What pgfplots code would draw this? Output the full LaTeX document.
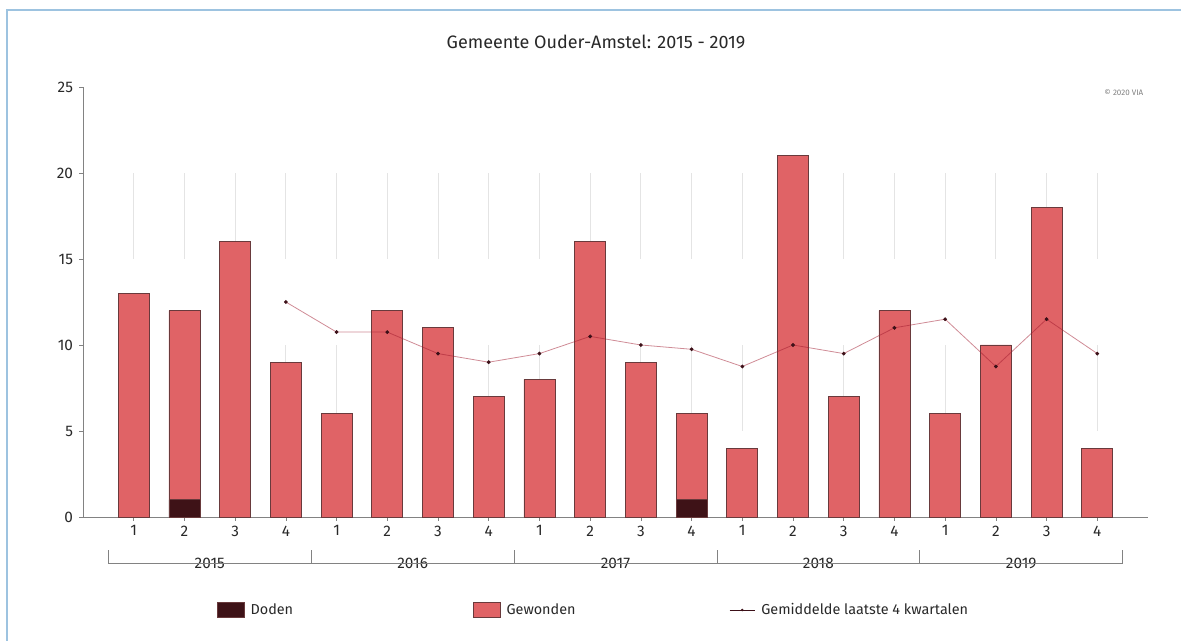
\documentclass[border=0pt]{standalone}
\usepackage{pgfplots}
\pgfplotsset{compat=1.18}
\usepackage{fontspec}
\setmainfont{Fira Sans}
\definecolor{doden}{RGB}{62,18,23}
\definecolor{gewonden}{RGB}{224,99,102}
\definecolor{baredge}{RGB}{105,58,60}
\definecolor{gridc}{RGB}{228,228,228}
\definecolor{avgc}{RGB}{160,25,45}
\definecolor{markc}{RGB}{60,16,24}
\definecolor{framec}{RGB}{157,195,224}
\definecolor{axc}{RGB}{130,130,130}
\definecolor{txt}{RGB}{40,40,40}
\pgfplotsset{
  base/.style={
    scale only axis, width=798.75pt, height=322.5pt,
    xmin=-1, xmax=20, ymin=0, ymax=25,
    at={(0,0)}, anchor=south west,
  },
  boxlegend/.style={legend image code/.code={\draw[##1] (0pt,-5.5pt) rectangle (20pt,5.5pt);}},
}
\begin{document}
\begin{tikzpicture}[x=1pt,y=1pt]
\path[use as bounding box] (-62.25,-93) rectangle (823.5,387.75);
\draw[framec, line width=1.3pt] (-57,-93) -- (-57,380.25) -- (823.5,380.25);
% grid segments
\begin{axis}[base, hide axis]
\addplot[gridc, line width=0.75pt, unbounded coords=jump] coordinates {
(0,5)(0,10)(0,nan)(0,15)(0,20)(0,nan)
(1,5)(1,10)(1,nan)(1,15)(1,20)(1,nan)
(2,5)(2,10)(2,nan)(2,15)(2,20)(2,nan)
(3,5)(3,10)(3,nan)(3,15)(3,20)(3,nan)
(4,5)(4,10)(4,nan)(4,15)(4,20)(4,nan)
(5,5)(5,10)(5,nan)(5,15)(5,20)(5,nan)
(6,5)(6,10)(6,nan)(6,15)(6,20)(6,nan)
(7,5)(7,10)(7,nan)(7,15)(7,20)(7,nan)
(8,5)(8,10)(8,nan)(8,15)(8,20)(8,nan)
(9,5)(9,10)(9,nan)(9,15)(9,20)(9,nan)
(10,5)(10,10)(10,nan)(10,15)(10,20)(10,nan)
(11,5)(11,10)(11,nan)(11,15)(11,20)(11,nan)
(12,5)(12,10)(12,nan)(12,15)(12,20)(12,nan)
(13,5)(13,10)(13,nan)(13,15)(13,20)(13,nan)
(14,5)(14,10)(14,nan)(14,15)(14,20)(14,nan)
(15,5)(15,10)(15,nan)(15,15)(15,20)(15,nan)
(16,5)(16,10)(16,nan)(16,15)(16,20)(16,nan)
(17,5)(17,10)(17,nan)(17,15)(17,20)(17,nan)
(18,5)(18,10)(18,nan)(18,15)(18,20)(18,nan)
(19,5)(19,10)(19,nan)(19,15)(19,20)
};
\end{axis}
% bars
\begin{axis}[base,
  ybar stacked, bar width=0.61,
  axis x line*=bottom, axis y line*=left,
  axis line style={axc, line width=0.6pt, -},
  clip=false,
  ytick={0,5,...,25},
  xtick={0,...,19},
  xticklabels={1,2,3,4,1,2,3,4,1,2,3,4,1,2,3,4,1,2,3,4},
  tick align=outside, major tick length=3pt,
  tick style={axc, line width=0.5pt},
  /pgf/number format/assume math mode=true,
  tick label style={font=\fontsize{11.5}{13}\selectfont, text=txt},
  yticklabel style={xshift=-1pt},
  legend columns=3,
  legend cell align=left,
  legend style={draw=none, fill=none, at={(0.1258,-0.2163)}, anchor=west,
    font=\fontsize{10.8}{12}\selectfont, text=txt, inner sep=0pt,
    nodes={inner sep=0pt},
    /tikz/every odd column/.append style={column sep=4.5pt}},
]
\addplot[fill=doden, draw=baredge, line width=0.5pt, boxlegend]
coordinates {(0,0)(1,1)(2,0)(3,0)(4,0)(5,0)(6,0)(7,0)(8,0)(9,0)(10,0)(11,1)(12,0)(13,0)(14,0)(15,0)(16,0)(17,0)(18,0)(19,0)};
\addlegendentry{\makebox[167pt][l]{Doden}}
\addplot[fill=gewonden, draw=baredge, line width=0.5pt, boxlegend]
coordinates {(0,13)(1,11)(2,16)(3,9)(4,6)(5,12)(6,11)(7,7)(8,8)(9,16)(10,9)(11,5)(12,4)(13,21)(14,7)(15,12)(16,6)(17,10)(18,18)(19,4)};
\addlegendentry{\makebox[167pt][l]{Gewonden}}
\addlegendimage{legend image code/.code={
  \draw[markc, line width=0.6pt] (0pt,0pt) -- (19pt,0pt);
  \fill[markc] (9.5pt,0pt) circle (0.7pt);}}
\addlegendentry{Gemiddelde laatste 4 kwartalen}
% year brackets
\draw[axc, line width=0.6pt] (axis cs:-0.5,-1.92) -- (axis cs:-0.5,-2.674) -- (axis cs:19.5,-2.674) -- (axis cs:19.5,-1.92);
\pgfplotsinvokeforeach{3.5,7.5,11.5,15.5}{\draw[axc, line width=0.6pt] (axis cs:#1,-1.92) -- (axis cs:#1,-2.674);}
\pgfplotsinvokeforeach{2015,2016,2017,2018,2019}{
  \node[fill=white, inner xsep=2pt, inner ysep=1pt, text=txt, font=\fontsize{11.5}{13}\selectfont]
    at (axis cs:{(#1-2015)*4+1.5},-2.674) {#1};}
\node[anchor=east, font=\fontsize{6}{7}\selectfont, text=gray] at (rel axis cs:1,0.988) {© 2020 VIA};
\end{axis}
% moving average
\begin{axis}[base, hide axis]
\addplot[avgc, draw opacity=0.5, line width=0.6pt, mark=*, mark size=1.1pt,
  mark options={fill=markc, draw=markc, draw opacity=1, fill opacity=1}]
coordinates {(3,12.5)(4,10.75)(5,10.75)(6,9.5)(7,9)(8,9.5)(9,10.5)(10,10)(11,9.75)(12,8.75)(13,10)(14,9.5)(15,11)(16,11.5)(17,8.75)(18,11.5)(19,9.5)};
\end{axis}
\node[font=\fontsize{13.5}{16}\selectfont, text=txt] at (384.75,356.25) {Gemeente Ouder-Amstel: 2015 - 2019};
\end{tikzpicture}
\end{document}
